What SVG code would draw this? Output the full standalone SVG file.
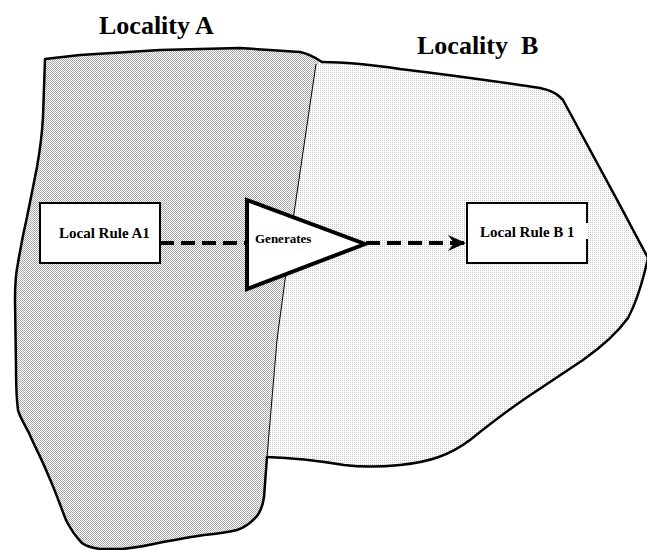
<svg xmlns="http://www.w3.org/2000/svg" width="647" height="550" viewBox="0 0 647 550">
  <style>
    .label { font-family: "Liberation Serif", "Times New Roman", serif; font-weight: bold; fill: #000; }
    .title { font-size: 26px; white-space: pre; }
    .rule { font-size: 15px; }
    .gen { font-size: 13px; }
    .edge { fill: none; stroke: #000; stroke-width: 2.5; stroke-linejoin: round; stroke-linecap: round; }
    .box { fill: #fff; stroke: #000; stroke-width: 2; }
    .flow { fill: none; stroke: #000; stroke-width: 4; stroke-dasharray: 14 7; }
  </style>
  <defs>
    <!-- dense checker for locality A -->
    <pattern id="hatchA" patternUnits="userSpaceOnUse" width="2" height="2">
      <rect width="2" height="2" fill="#fff"/>
      <rect x="0" y="0" width="1" height="1" fill="#a8a8a8"/>
      <rect x="1" y="1" width="1" height="1" fill="#a8a8a8"/>
    </pattern>
    <!-- sparse dots for locality B -->
    <pattern id="dotsB" patternUnits="userSpaceOnUse" width="2" height="2">
      <rect width="2" height="2" fill="#fff"/>
      <rect x="0" y="0" width="1" height="1" fill="#c4c4c4"/>
    </pattern>
    <marker id="barb" markerUnits="userSpaceOnUse" markerWidth="20" markerHeight="18" refX="18" refY="9" orient="auto">
      <path d="M0,1 L18,9 L0,17 L6,9 Z" fill="#000"/>
    </marker>
  </defs>

  <!-- Locality B region -->
  <g id="locality-b">
    <path d="M316,62 L322,62 C340,62 360,63 400,69 C450,75 500,82 540,88 C550,90 556,93 560,97 L563,100 C585,140 620,205 648,258 C642,285 635,305 628,318 C615,336 600,348 583,360 C565,372 550,382 535,392 C515,405 495,420 470,440 C450,455 430,462 400,465 C380,467 360,467 344,465 C320,461 300,458 267,457 L277,340 L293,220 Z" fill="url(#dotsB)"/>
    <path class="edge" d="M322,62 C340,62 360,63 400,69 C450,75 500,82 540,88 C550,90 556,93 560,97 L563,100 C585,140 620,205 648,258 C642,285 635,305 628,318 C615,336 600,348 583,360 C565,372 550,382 535,392 C515,405 495,420 470,440 C450,455 430,462 400,465 C380,467 360,467 344,465 C320,461 300,458 267,457"/>
    <text class="label title" x="417" y="54">Locality  B</text>
  </g>

  <!-- Locality A region -->
  <g id="locality-a">
    <path d="M45,59 L80,55 L160,50 L240,48 L300,52 C310,54 316,58 320,62 L316,66 L293,220 L277,340 L267,457 L264,497 C263,505 260,512 257,516 C250,524 243,528 237,530 C225,533 215,534 204,535 C185,538 175,540 163,542 C145,546 135,548 122,549 L100,549 C92,548 86,546 82,543 C74,535 70,528 66,520 C60,505 55,490 49,477 C40,455 33,443 29,433 C22,420 19,415 18,410 C16,395 16,380 16,367 L15,300 C15,285 16,272 18,263 C21,245 24,230 27,217 C31,198 34,182 37,167 C40,150 42,135 43,117 Z" fill="url(#hatchA)"/>
    <path class="edge" d="M267,457 L264,497 C263,505 260,512 257,516 C250,524 243,528 237,530 C225,533 215,534 204,535 C185,538 175,540 163,542 C145,546 135,548 122,549 L100,549 C92,548 86,546 82,543 C74,535 70,528 66,520 C60,505 55,490 49,477 C40,455 33,443 29,433 C22,420 19,415 18,410 C16,395 16,380 16,367 L15,300 C15,285 16,272 18,263 C21,245 24,230 27,217 C31,198 34,182 37,167 C40,150 42,135 43,117 L45,59 L80,55 L160,50 L240,48 L300,52 C310,54 316,58 322,62"/>
    <!-- shared border between the two localities -->
    <path d="M316,64 L293,220 L277,340 L267,457" fill="none" stroke="#000" stroke-width="1"/>
    <text class="label title" x="99" y="34">Locality A</text>
  </g>

  <!-- Connectors -->
  <g id="connectors">
    <line class="flow" x1="160" y1="243" x2="247" y2="243"/>
    <line class="flow" x1="366" y1="243" x2="466" y2="243" marker-end="url(#barb)"/>
  </g>

  <g id="rule-a1">
    <rect class="box" x="40" y="203" width="120" height="60"/>
    <text class="label rule" x="59" y="238">Local Rule A1</text>
  </g>

  <g id="generates">
    <polygon points="247,200 365,244 247,289" fill="#fff" stroke="#000" stroke-width="4" stroke-linejoin="miter"/>
    <text class="label gen" x="255" y="243">Generates</text>
  </g>

  <g id="rule-b1">
    <path d="M587,223 L587,203 L467,203 L467,263 L587,263 L587,239" fill="#fff" stroke="#000" stroke-width="2"/>
    <text class="label rule" x="480" y="237">Local Rule B 1</text>
  </g>
</svg>
